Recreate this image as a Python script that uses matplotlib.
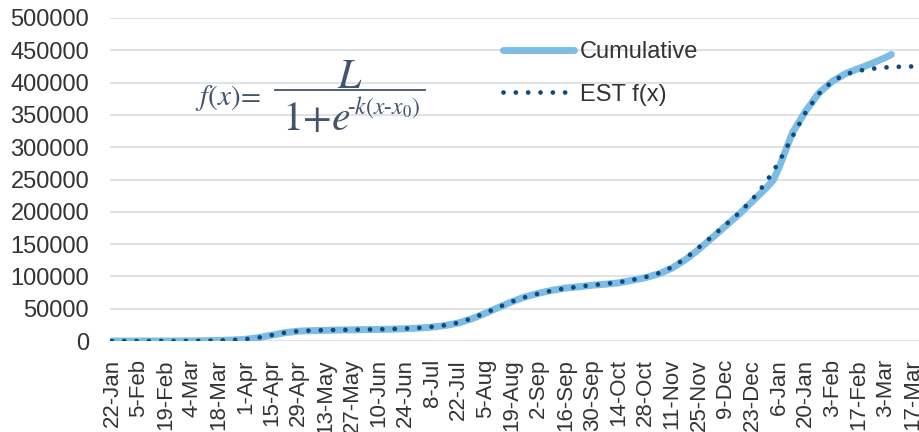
import matplotlib.pyplot as plt
from matplotlib.lines import Line2D

# day offsets counted from 22-Jan, and the values read on those days
cum_days = [0, 7, 14, 21, 28, 35, 42, 49, 56, 63, 70, 77, 84, 91, 98, 105, 112, 119, 126, 133,
            140, 147, 154, 161, 168, 175, 182, 189, 196, 203, 210, 217, 224, 231, 238, 245, 252,
            259, 266, 273, 280, 287, 294, 301, 308, 315, 322, 329, 336, 343, 347, 350, 357, 364,
            371, 378, 385, 392, 399, 406, 409]
cum_vals = [0, 0, 0, 0, 50, 100, 200, 400, 800, 1500, 2600, 5300, 9200, 13000, 15300, 16000,
            16500, 17000, 17300, 17600, 17900, 18300, 19000, 20000, 21500, 24000, 28000, 34500,
            43000, 52000, 61000, 68500, 74000, 78500, 82000, 84000, 86300, 88000, 90000, 94000,
            98000, 104000, 113000, 126000, 142000, 160000, 178000, 196000, 216000, 236000,
            249000, 268000, 322000, 356000, 384000, 402000, 414000, 422000, 430000, 439000, 443500]

est_days = [0, 7, 14, 21, 28, 35, 42, 49, 56, 63, 70, 77, 84, 91, 98, 105, 112, 119, 126, 133,
            140, 147, 154, 161, 168, 175, 182, 189, 196, 203, 210, 217, 224, 231, 238, 245, 252,
            259, 266, 273, 280, 287, 294, 301, 308, 315, 322, 329, 336, 343, 350, 357, 364, 371,
            378, 385, 392, 399, 406, 413, 420, 427]
est_vals = [0, 0, 0, 0, 50, 100, 200, 400, 800, 1500, 2800, 5300, 9200, 13000, 15300, 16300,
            16800, 17100, 17400, 17700, 18000, 18500, 19300, 20300, 22000, 24500, 28500, 35000,
            43500, 52500, 61000, 68000, 73500, 78000, 81500, 84000, 86500, 88500, 91000, 94500,
            99000, 105000, 114500, 128000, 145000, 162000, 180000, 198000, 219000, 245000,
            277000, 316000, 354000, 383000, 402000, 413000, 418500, 421500, 423500, 424500,
            425000, 425000]

tick_labels = ['22-Jan', '5-Feb', '19-Feb', '4-Mar', '18-Mar', '1-Apr', '15-Apr', '29-Apr',
               '13-May', '27-May', '10-Jun', '24-Jun', '8-Jul', '22-Jul', '5-Aug', '19-Aug',
               '2-Sep', '16-Sep', '30-Sep', '14-Oct', '28-Oct', '11-Nov', '25-Nov', '9-Dec',
               '23-Dec', '6-Jan', '20-Jan', '3-Feb', '17-Feb', '3-Mar', '17-Mar']
y_ticks = [0, 50000, 100000, 150000, 200000, 250000, 300000, 350000, 400000, 450000, 500000]

plt.rcParams['font.family'] = ['Liberation Sans', 'DejaVu Sans']
txt = '#333333'
W, H = 920, 432

fig = plt.figure(figsize=(W / 100, H / 100), dpi=100)
ax = fig.add_axes([110 / W, 91 / H, 810 / W, 323 / H])

ax.plot(cum_days, cum_vals, color='#7dbde3', lw=5, solid_capstyle='round',
        solid_joinstyle='round', label='Cumulative', zorder=3)
ax.plot(est_days, est_vals, color='#0d4a7e', lw=3.4, linestyle=(0, (0.01, 2.6)),
        dash_capstyle='round', label='EST f(x)', zorder=4)

ax.set_xlim(-1, 424)
ax.set_ylim(0, 500000)
ax.set_xticks([14 * i for i in range(len(tick_labels))])
ax.set_xticklabels(tick_labels, rotation=90, fontsize=16, color=txt)
ax.set_yticks(y_ticks)
ax.set_yticklabels([str(v) for v in y_ticks], fontsize=17, color=txt)
ax.tick_params(length=0)
ax.tick_params(axis='y', pad=15)
ax.tick_params(axis='x', pad=13)
ax.grid(axis='y', color='#dfe3e8', lw=1.5)
ax.set_axisbelow(True)
for s in ax.spines.values():
    s.set_visible(False)

ax.legend(loc='upper left', bbox_to_anchor=(0.485, 0.929), frameon=False, fontsize=17,
          handlelength=3.0, handletextpad=0.25, labelspacing=0.88, borderpad=0,
          borderaxespad=0, labelcolor=txt)

# logistic formula, set piece by piece
fcol = '#44546a'


def px(x, y):
    return x / W, 1 - y / H


fig.text(*px(195, 105), r'$f(x)\!=$', fontsize=21, color=fcol,
         math_fontfamily='stix', va='baseline')
fig.text(*px(350, 88), r'$L$', fontsize=30, color=fcol,
         math_fontfamily='stix', ha='center', va='baseline')
bx, by = px(275, 90)
ex, _ = px(425, 90)
fig.add_artist(Line2D([bx, ex], [by, by], lw=1.3, color=fcol))
fig.text(*px(282, 130), r'$1{+}e$', fontsize=30, color=fcol,
         math_fontfamily='stix', va='baseline')
fig.text(*px(347, 114), r'$\text{-}k(x\text{-}x_0)$', fontsize=17, color=fcol,
         math_fontfamily='stix', va='baseline')

fig.savefig('out.png', dpi=100)
